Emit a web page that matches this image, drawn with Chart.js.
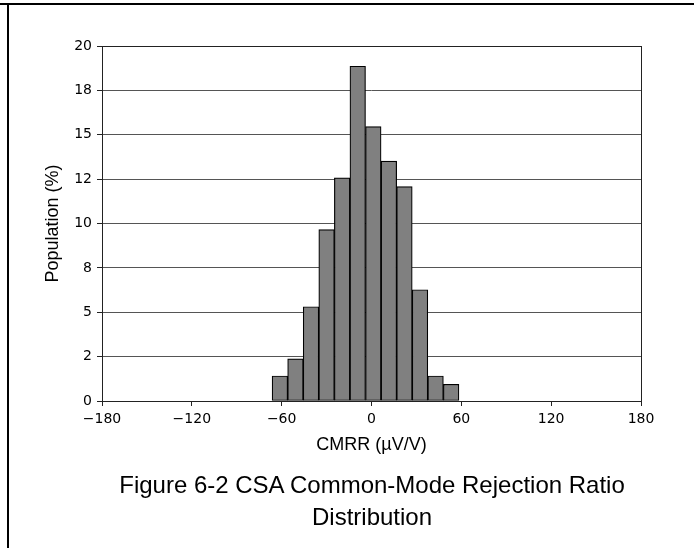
<!DOCTYPE html>
<html><head><meta charset="utf-8">
<script src="https://cdn.jsdelivr.net/npm/chart.js@4/dist/chart.umd.min.js"></script>
<style>
html,body{margin:0;padding:0;background:#fff;}
#wrap{position:relative;width:694px;height:548px;overflow:hidden;background:#fff;}
#c{position:absolute;left:0;top:0;}
.frameTop{position:absolute;left:0;top:3px;width:694px;height:2px;background:#000;}
.frameLeft{position:absolute;left:7px;top:3px;width:2px;height:545px;background:#000;}
#caption{position:absolute;left:72px;width:600px;top:469px;text-align:center;font-family:"Liberation Sans",Arial,sans-serif;font-size:24px;line-height:32px;color:#000;white-space:nowrap;}
</style></head><body>
<div id="wrap">
<canvas id="c" width="694" height="548"></canvas>
<div class="frameTop"></div><div class="frameLeft"></div>
<div id="caption">Figure 6-2 CSA Common-Mode Rejection Ratio<br>Distribution</div>
</div>
<script>
// Histogram bin centres (µV/V), bin width 10.4
const binCenters = [-61.2, -50.8, -40.4, -30.0, -19.6, -9.2, 1.2, 11.6, 22.0, 32.4, 42.8, 53.2];
// Population (%) per bin
const population = [1.41, 2.38, 5.31, 9.66, 12.57, 18.86, 15.46, 13.51, 12.08, 6.27, 1.41, 0.94];
// X axis ticks
const xTickValues = [-180, -120, -60, 0, 60, 120, 180];
const xTickLabels = ['\u2212180', '\u2212120', '\u221260', '0', '60', '120', '180'];
// Y axis ticks (values and their printed labels)
const yTickValues = [0, 2.5, 5, 7.5, 10, 12.5, 15, 17.5, 20];
const yTickLabels = ['0', '2', '5', '8', '10', '12', '15', '18', '20'];

const tickFont = {family: '"DejaVu Sans", sans-serif', size: 14};
const titleFont = {family: '"Liberation Sans", Arial, sans-serif', size: 18};

const spinePlugin = {
  id: 'spines',
  afterDraw(chart) {
    const {ctx, chartArea: a} = chart;
    ctx.save();
    ctx.strokeStyle = '#222';
    ctx.lineWidth = 1;
    const l = Math.round(a.left), t = Math.round(a.top), r = Math.round(a.right), b = Math.round(a.bottom);
    ctx.strokeRect(l + 0.5, t + 0.5, r - l, b - t);
    ctx.restore();
  }
};

new Chart(document.getElementById('c'), {
  type: 'bar',
  data: {
    datasets: [{
      data: binCenters.map((x, i) => ({x: x, y: population[i]})),
      backgroundColor: '#808080',
      borderColor: '#000',
      borderWidth: 1.2,
      borderSkipped: false,
      barPercentage: 1,
      categoryPercentage: 1
    }]
  },
  options: {
    responsive: false,
    animation: false,
    devicePixelRatio: 1,
    layout: {padding: {left: 0, top: 46, right: 53, bottom: 87}},
    plugins: {legend: {display: false}, tooltip: {enabled: false}, title: {display: false}},
    scales: {
      x: {
        type: 'linear',
        min: -180, max: 180,
        offset: false,
        afterBuildTicks: s => { s.ticks = xTickValues.map(v => ({value: v})); },
        afterFit: s => { s.height = 60; },
        grid: {display: true, offset: false, drawOnChartArea: false, drawTicks: true, tickLength: 5, tickColor: '#222', tickWidth: 1},
        border: {display: false},
        ticks: {font: tickFont, color: '#000', padding: 5, maxRotation: 0, autoSkip: false,
          callback: (v, i) => xTickLabels[i]},
        title: {display: true, text: 'CMRR (\u00b5V/V)', font: titleFont, color: '#000', padding: {top: 0, bottom: 5}}
      },
      y: {
        type: 'linear',
        min: 0, max: 20,
        afterBuildTicks: s => { s.ticks = yTickValues.map(v => ({value: v})); },
        afterFit: s => { s.width = 102; },
        grid: {display: true, drawOnChartArea: true, color: '#555', lineWidth: 1, drawTicks: true, tickLength: 5, tickColor: '#222', tickWidth: 1},
        border: {display: false},
        ticks: {font: tickFont, color: '#000', padding: 5, autoSkip: false,
          callback: (v, i) => yTickLabels[i]},
        title: {display: true, text: 'Population (%)', font: titleFont, color: '#000', padding: {top: 42, bottom: 0}}
      }
    }
  },
  plugins: [spinePlugin]
});
</script>
</body></html>
